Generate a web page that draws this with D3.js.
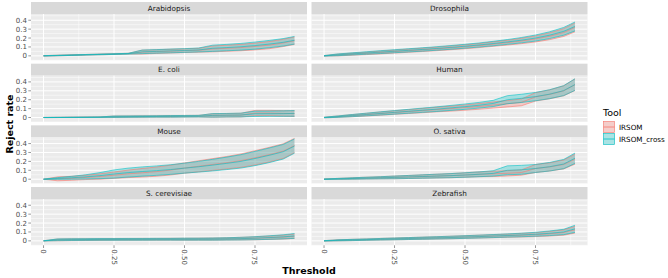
<!DOCTYPE html>
<html>
  <head>
    <title>Reject rate by threshold</title>
    <script src="https://d3js.org/d3.v7.min.js"></script>
    <style>
      body { margin: 0; background: #fff; }
      text { font-family: "DejaVu Sans", sans-serif; }
    </style>
  </head>
  <body>
    <script>
      // threshold grid shared by every panel
      let thresholds = [0, 0.05, 0.1, 0.15, 0.2, 0.25, 0.3, 0.35, 0.4, 0.45, 0.5, 0.55, 0.6, 0.65, 0.7, 0.75, 0.8, 0.85, 0.89];
      let species = ['Arabidopsis', 'Drosophila', 'E. coli', 'Human', 'Mouse', 'O. sativa', 'S. cerevisiae', 'Zebrafish'];
      let tools = ['IRSOM', 'IRSOM_cross'];
      let yTicks = [0, 0.1, 0.2, 0.3, 0.4];
      let xTicks = [0, 0.25, 0.5, 0.75];
      let xTickLabels = ['0', '0.25', '0.50', '0.75'];

      let irsomMean = {
        'Arabidopsis':   [0, 0.004, 0.008, 0.012, 0.016, 0.02, 0.024, 0.042, 0.048, 0.053, 0.058, 0.063, 0.078, 0.085, 0.093, 0.105, 0.12, 0.145, 0.17],
        'Drosophila':    [0, 0.01, 0.019, 0.028, 0.038, 0.048, 0.058, 0.068, 0.078, 0.09, 0.102, 0.116, 0.132, 0.148, 0.167, 0.19, 0.22, 0.262, 0.32],
        'E. coli':       [0, 0.001, 0.002, 0.003, 0.004, 0.009, 0.01, 0.011, 0.012, 0.013, 0.014, 0.015, 0.023, 0.025, 0.027, 0.05, 0.05, 0.046, 0.044],
        'Human':         [0, 0.01, 0.021, 0.032, 0.044, 0.056, 0.067, 0.078, 0.09, 0.1, 0.112, 0.125, 0.14, 0.155, 0.17, 0.232, 0.26, 0.3, 0.368],
        'Mouse':         [0, 0.004, 0.01, 0.02, 0.03, 0.045, 0.06, 0.072, 0.085, 0.102, 0.125, 0.145, 0.165, 0.185, 0.208, 0.24, 0.275, 0.315, 0.378],
        'O. sativa':     [0, 0.004, 0.008, 0.012, 0.016, 0.02, 0.025, 0.03, 0.035, 0.04, 0.047, 0.055, 0.06, 0.066, 0.075, 0.12, 0.138, 0.165, 0.225],
        'S. cerevisiae': [0, 0.011, 0.013, 0.014, 0.015, 0.016, 0.016, 0.017, 0.017, 0.018, 0.018, 0.019, 0.02, 0.022, 0.025, 0.029, 0.035, 0.042, 0.052],
        'Zebrafish':     [0, 0.006, 0.01, 0.014, 0.018, 0.022, 0.026, 0.03, 0.034, 0.038, 0.043, 0.048, 0.053, 0.058, 0.064, 0.07, 0.08, 0.094, 0.125]
      };
      let irsomSd = {
        'Arabidopsis':   [0.002, 0.003, 0.003, 0.003, 0.004, 0.004, 0.004, 0.022, 0.021, 0.021, 0.021, 0.022, 0.033, 0.034, 0.036, 0.038, 0.04, 0.041, 0.042],
        'Drosophila':    [0.003, 0.01, 0.012, 0.014, 0.016, 0.017, 0.018, 0.019, 0.02, 0.021, 0.022, 0.023, 0.025, 0.027, 0.03, 0.034, 0.038, 0.044, 0.05],
        'E. coli':       [0.001, 0.001, 0.001, 0.002, 0.002, 0.008, 0.008, 0.008, 0.008, 0.009, 0.009, 0.009, 0.02, 0.02, 0.021, 0.03, 0.03, 0.031, 0.032],
        'Human':         [0.003, 0.008, 0.012, 0.015, 0.018, 0.02, 0.022, 0.024, 0.026, 0.028, 0.03, 0.032, 0.034, 0.036, 0.038, 0.047, 0.05, 0.056, 0.065],
        'Mouse':         [0, 0.022, 0.022, 0.024, 0.03, 0.036, 0.042, 0.048, 0.052, 0.055, 0.058, 0.062, 0.066, 0.07, 0.075, 0.08, 0.082, 0.082, 0.08],
        'O. sativa':     [0.002, 0.005, 0.008, 0.01, 0.012, 0.015, 0.017, 0.019, 0.021, 0.023, 0.025, 0.027, 0.03, 0.03, 0.03, 0.045, 0.046, 0.05, 0.056],
        'S. cerevisiae': [0.001, 0.01, 0.01, 0.01, 0.01, 0.01, 0.01, 0.01, 0.01, 0.01, 0.011, 0.011, 0.012, 0.013, 0.015, 0.017, 0.019, 0.022, 0.025],
        'Zebrafish':     [0.002, 0.006, 0.007, 0.008, 0.009, 0.01, 0.011, 0.012, 0.013, 0.014, 0.015, 0.016, 0.017, 0.018, 0.02, 0.022, 0.026, 0.03, 0.038]
      };
      let crossMean = {
        'Arabidopsis':   [0, 0.004, 0.008, 0.012, 0.016, 0.02, 0.024, 0.045, 0.05, 0.055, 0.06, 0.066, 0.085, 0.093, 0.102, 0.115, 0.132, 0.152, 0.175],
        'Drosophila':    [0, 0.012, 0.022, 0.032, 0.042, 0.052, 0.062, 0.072, 0.083, 0.095, 0.108, 0.122, 0.138, 0.156, 0.176, 0.2, 0.232, 0.275, 0.33],
        'E. coli':       [0, 0.001, 0.002, 0.003, 0.004, 0.009, 0.01, 0.011, 0.012, 0.013, 0.014, 0.015, 0.024, 0.026, 0.028, 0.042, 0.043, 0.044, 0.046],
        'Human':         [0, 0.01, 0.022, 0.034, 0.046, 0.058, 0.07, 0.082, 0.094, 0.108, 0.122, 0.138, 0.158, 0.2, 0.215, 0.235, 0.262, 0.302, 0.37],
        'Mouse':         [0, 0.008, 0.016, 0.026, 0.04, 0.058, 0.074, 0.086, 0.096, 0.108, 0.124, 0.14, 0.158, 0.178, 0.2, 0.232, 0.268, 0.308, 0.372],
        'O. sativa':     [0, 0.004, 0.008, 0.012, 0.016, 0.02, 0.025, 0.03, 0.035, 0.04, 0.047, 0.055, 0.065, 0.1, 0.105, 0.12, 0.14, 0.17, 0.235],
        'S. cerevisiae': [0, 0.012, 0.014, 0.015, 0.016, 0.016, 0.017, 0.017, 0.018, 0.018, 0.019, 0.019, 0.02, 0.022, 0.025, 0.03, 0.037, 0.045, 0.055],
        'Zebrafish':     [0, 0.006, 0.01, 0.014, 0.018, 0.022, 0.026, 0.03, 0.034, 0.038, 0.043, 0.048, 0.054, 0.06, 0.066, 0.074, 0.085, 0.1, 0.135]
      };
      let crossSd = {
        'Arabidopsis':   [0.002, 0.003, 0.003, 0.003, 0.004, 0.004, 0.004, 0.02, 0.02, 0.021, 0.021, 0.022, 0.035, 0.036, 0.038, 0.04, 0.041, 0.042, 0.043],
        'Drosophila':    [0.003, 0.01, 0.012, 0.014, 0.016, 0.017, 0.018, 0.019, 0.02, 0.021, 0.022, 0.023, 0.025, 0.027, 0.03, 0.034, 0.038, 0.044, 0.05],
        'E. coli':       [0.001, 0.001, 0.001, 0.002, 0.002, 0.008, 0.008, 0.008, 0.008, 0.009, 0.009, 0.009, 0.02, 0.02, 0.021, 0.03, 0.03, 0.031, 0.032],
        'Human':         [0.003, 0.008, 0.012, 0.015, 0.018, 0.02, 0.022, 0.024, 0.026, 0.028, 0.03, 0.032, 0.035, 0.045, 0.046, 0.047, 0.05, 0.056, 0.065],
        'Mouse':         [0, 0.01, 0.016, 0.024, 0.034, 0.046, 0.05, 0.052, 0.053, 0.054, 0.056, 0.06, 0.065, 0.07, 0.075, 0.08, 0.082, 0.082, 0.08],
        'O. sativa':     [0.002, 0.005, 0.008, 0.01, 0.012, 0.015, 0.017, 0.019, 0.021, 0.023, 0.025, 0.027, 0.03, 0.05, 0.05, 0.045, 0.048, 0.052, 0.058],
        'S. cerevisiae': [0.001, 0.01, 0.01, 0.01, 0.01, 0.01, 0.01, 0.01, 0.01, 0.01, 0.011, 0.011, 0.012, 0.013, 0.015, 0.017, 0.02, 0.023, 0.027],
        'Zebrafish':     [0.002, 0.006, 0.007, 0.008, 0.009, 0.01, 0.011, 0.012, 0.013, 0.014, 0.015, 0.016, 0.017, 0.018, 0.02, 0.022, 0.026, 0.03, 0.04]
      };

      let colors = {'IRSOM': '#F8766D', 'IRSOM_cross': '#00BFC4'};

      let width = 668, height = 278;
      let colLeft = [31, 311.5], panelW = 276;
      let rowPitch = 61.67, stripH = 12, panelH = 46.3;

      let svg = d3.select('body').append('svg')
                  .attr('width', width)
                  .attr('height', height)
                  .style('background-color', '#fff');

      let xScale = d3.scaleLinear().domain([-0.0445, 0.9345]).range([0, panelW]);
      let yScale = d3.scaleLinear().domain([-0.05, 0.47]).range([panelH, 0]);

      let area = d3.area()
                   .x(d => xScale(d.t))
                   .y0(d => yScale(d.m - d.s))
                   .y1(d => yScale(d.m + d.s));
      let line = d3.line().x(d => xScale(d.t)).y(d => yScale(d.v));

      function seriesFor(sp, tool) {
        let mean = tool === 'IRSOM' ? irsomMean[sp] : crossMean[sp];
        let sd = tool === 'IRSOM' ? irsomSd[sp] : crossSd[sp];
        return thresholds.map((t, i) => ({t: t, m: mean[i], s: sd[i]}));
      }

      species.forEach((sp, k) => {
        let col = k % 2, row = Math.floor(k / 2);
        let top = 2 + row * rowPitch;
        let g = svg.append('g').attr('transform', `translate(${colLeft[col]}, ${top})`);

        // strip
        g.append('rect').attr('width', panelW).attr('height', stripH).attr('fill', '#D9D9D9');
        g.append('text').attr('x', panelW / 2).attr('y', stripH / 2 + 2.6)
         .attr('text-anchor', 'middle').attr('font-size', 7.3).attr('fill', '#1A1A1A').text(sp);

        let p = g.append('g').attr('transform', `translate(0, ${stripH})`);
        p.append('rect').attr('width', panelW).attr('height', panelH).attr('fill', '#EBEBEB');

        let clipId = 'clip' + k;
        p.append('clipPath').attr('id', clipId)
         .append('rect').attr('width', panelW).attr('height', panelH);

        // grid
        let minorY = [-0.05, 0.05, 0.15, 0.25, 0.35, 0.45];
        let minorX = [0.125, 0.375, 0.625, 0.875];
        p.selectAll('.gmy').data(minorY).enter().append('line')
         .attr('x1', 0).attr('x2', panelW).attr('y1', d => yScale(d)).attr('y2', d => yScale(d))
         .attr('stroke', '#fff').attr('stroke-width', 0.5);
        p.selectAll('.gmx').data(minorX).enter().append('line')
         .attr('y1', 0).attr('y2', panelH).attr('x1', d => xScale(d)).attr('x2', d => xScale(d))
         .attr('stroke', '#fff').attr('stroke-width', 0.5);
        p.selectAll('.gy').data(yTicks).enter().append('line')
         .attr('x1', 0).attr('x2', panelW).attr('y1', d => yScale(d)).attr('y2', d => yScale(d))
         .attr('stroke', '#fff').attr('stroke-width', 1);
        p.selectAll('.gx').data(xTicks).enter().append('line')
         .attr('y1', 0).attr('y2', panelH).attr('x1', d => xScale(d)).attr('x2', d => xScale(d))
         .attr('stroke', '#fff').attr('stroke-width', 1);

        let marks = p.append('g').attr('clip-path', `url(#${clipId})`);
        tools.forEach(tool => {
          let s = seriesFor(sp, tool);
          marks.append('path').attr('d', area(s))
               .attr('fill', colors[tool]).attr('fill-opacity', 0.3);
        });
        tools.forEach(tool => {
          let s = seriesFor(sp, tool);
          ['lo', 'mid', 'hi'].forEach(which => {
            let pts = s.map(d => ({t: d.t, v: which === 'lo' ? d.m - d.s : which === 'hi' ? d.m + d.s : d.m}));
            marks.append('path').attr('d', line(pts))
                 .attr('fill', 'none').attr('stroke', colors[tool])
                 .attr('stroke-opacity', 0.85).attr('stroke-width', 0.7);
          });
        });

        // y axis on left column
        if (col === 0) {
          let ya = p.append('g');
          yTicks.forEach(v => {
            ya.append('line').attr('x1', -2.7).attr('x2', 0).attr('y1', yScale(v)).attr('y2', yScale(v))
              .attr('stroke', '#333').attr('stroke-width', 0.5);
            ya.append('text').attr('x', -4).attr('y', yScale(v) + 2.5)
              .attr('text-anchor', 'end').attr('font-size', 7).attr('fill', '#4D4D4D')
              .text(v === 0 ? '0' : d3.format('.1f')(v));
          });
        }

        // x axis on bottom row
        if (row === 3) {
          let xa = p.append('g').attr('transform', `translate(0, ${panelH})`);
          xTicks.forEach((v, i) => {
            xa.append('line').attr('x1', xScale(v)).attr('x2', xScale(v)).attr('y1', 0).attr('y2', 2.7)
              .attr('stroke', '#333').attr('stroke-width', 0.5);
            xa.append('text')
              .attr('transform', `translate(${xScale(v) - 2.5}, 4) rotate(90)`)
              .attr('font-size', 7).attr('fill', '#4D4D4D').text(xTickLabels[i]);
          });
        }
      });

      // axis titles
      svg.append('text').attr('x', 309).attr('y', 274).attr('text-anchor', 'middle')
         .attr('font-size', 9.5).attr('font-weight', 'bold').attr('fill', '#000').text('Threshold');
      svg.append('text').attr('transform', 'translate(13, 124) rotate(-90)').attr('text-anchor', 'middle')
         .attr('font-size', 9.5).attr('font-weight', 'bold').attr('fill', '#000').text('Reject rate');

      // legend
      let legend = svg.append('g').attr('transform', 'translate(603, 107)');
      legend.append('text').attr('x', 0).attr('y', 8.5).attr('font-size', 9.5).attr('fill', '#000').text('Tool');
      tools.forEach((tool, i) => {
        let key = legend.append('g').attr('transform', `translate(0, ${14 + i * 12})`);
        key.append('rect').attr('width', 12).attr('height', 12).attr('fill', '#F2F2F2');
        key.append('rect').attr('x', 0.5).attr('y', 0.5).attr('width', 11).attr('height', 11)
           .attr('fill', colors[tool]).attr('fill-opacity', 0.3)
           .attr('stroke', colors[tool]).attr('stroke-width', 0.6);
        key.append('line').attr('x1', 0.5).attr('x2', 11.5).attr('y1', 6).attr('y2', 6)
           .attr('stroke', colors[tool]).attr('stroke-width', 0.8);
        key.append('text').attr('x', 16).attr('y', 8.5).attr('font-size', 7.2).attr('fill', '#000').text(tool);
      });
    </script>
  </body>
</html>
